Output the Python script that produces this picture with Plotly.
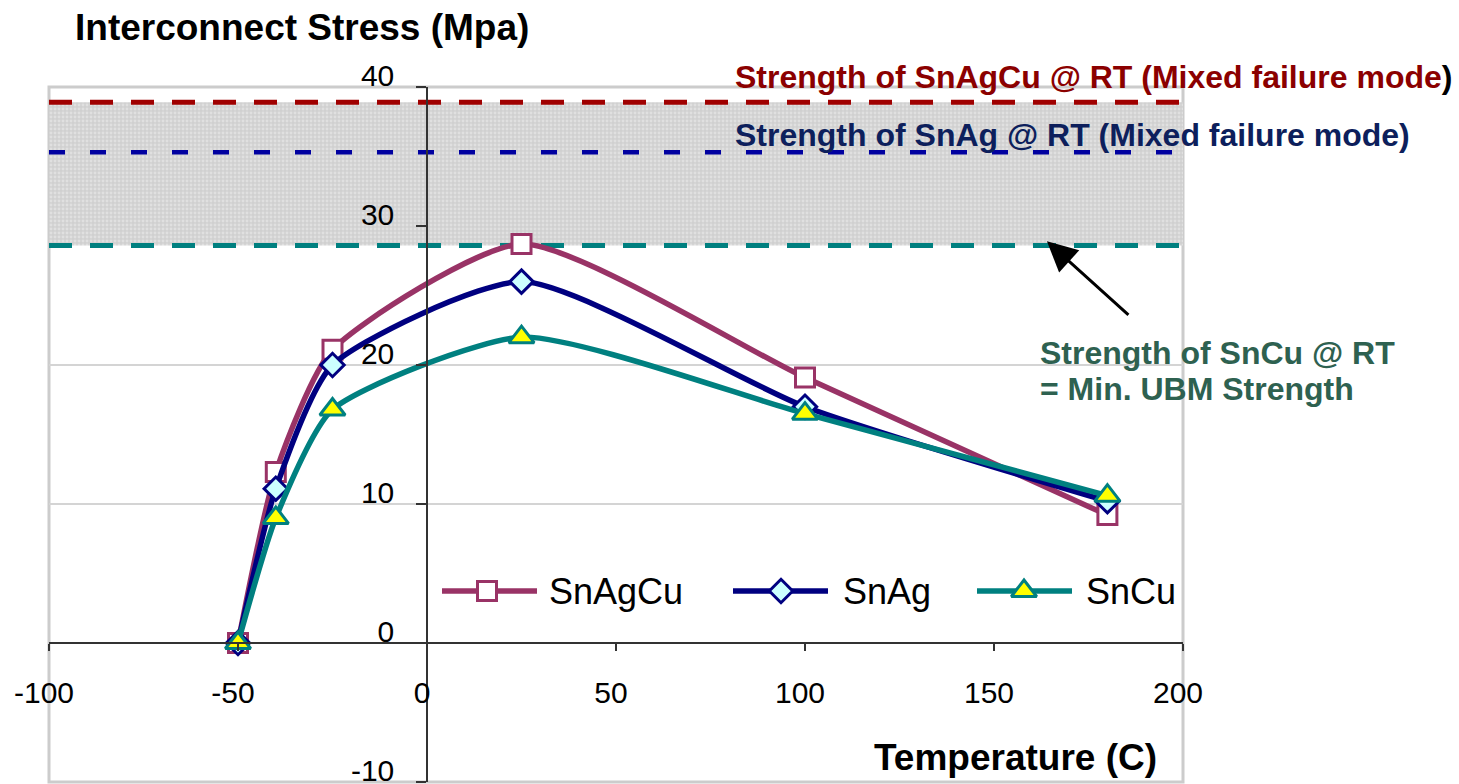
import plotly.graph_objects as go

# Measured interconnect stress vs. temperature for three solder alloys
temperature = [-50, -40, -25, 25, 100, 180]
stress_snagcu = [0.0, 12.3, 21.1, 28.7, 19.1, 9.2]
stress_snag = [0.0, 11.1, 20.0, 26.0, 17.0, 10.2]
stress_sncu = [0.0, 9.0, 16.8, 22.0, 16.5, 10.6]

# Room-temperature strength levels (MPa)
strength_snagcu = 38.9
strength_snag = 35.3
strength_sncu = 28.6

x_range = [-100, 200]
y_range = [-10, 40]
x_ticks = [-100, -50, 0, 50, 100, 150, 200]
y_ticks = [-10, 0, 10, 20, 30, 40]

series_names = ["SnAgCu", "SnAg", "SnCu"]

FONT = "Liberation Sans, Arial, sans-serif"
W, H = 1459, 784
PL, PR, PT, PB = 49, 1183, 87, 782  # plot-area edges in pixels


def px(xp):
    return (xp - PL) / (PR - PL)


def py(yp):
    return (PB - yp) / (PB - PT)


styles = {
    "SnAgCu": dict(line=dict(color="#993366", width=5.5),
                   marker=dict(symbol="square", size=19, color="white",
                               line=dict(color="#993366", width=3))),
    "SnAg": dict(line=dict(color="#000080", width=5.5),
                 marker=dict(symbol="diamond", size=18, color="#CCFFFF",
                             line=dict(color="#000080", width=3))),
    "SnCu": dict(line=dict(color="#008080", width=5.5),
                 marker=dict(symbol="triangle-up", size=22, color="#FFFF00",
                             line=dict(color="#008080", width=3))),
}

fig = go.Figure()

# Shaded band between the minimum (SnCu) and maximum (SnAgCu) strength
fig.add_trace(go.Scatter(
    x=[x_range[0], x_range[1], x_range[1], x_range[0], x_range[0]],
    y=[strength_sncu, strength_sncu, strength_snagcu, strength_snagcu, strength_sncu],
    mode="lines", line=dict(width=0), fill="toself",
    fillcolor="#d6d6d6",
    fillpattern=dict(shape=".", bgcolor="#d0d0d0", fgcolor="#f0f0f0",
                     size=4, solidity=0.4),
    hoverinfo="skip", showlegend=False,
))

# Strength reference lines
for level, color, dash, width in [
    (strength_snagcu, "#A00000", "23px,18px", 5),
    (strength_snag, "#0000A0", "16px,25px", 4.5),
    (strength_sncu, "#008080", "23px,18px", 5),
]:
    fig.add_trace(go.Scatter(
        x=x_range, y=[level, level], mode="lines",
        line=dict(color=color, width=width, dash=dash),
        hoverinfo="skip", showlegend=False,
    ))

# Stress curves
for name, values in zip(series_names, [stress_snagcu, stress_snag, stress_sncu]):
    st = styles[name]
    fig.add_trace(go.Scatter(
        x=temperature, y=values, mode="lines+markers", name=name,
        line=dict(color=st["line"]["color"], width=st["line"]["width"],
                  shape="spline", smoothing=0.6),
        marker=st["marker"], showlegend=False, cliponaxis=False,
    ))

# Legend drawn on an overlay axis in plot-area fractions
legend_y = py(591)
legend_items = [
    ("SnAgCu", 442, 537, 487, 547),
    ("SnAg", 733, 828, 781, 841),
    ("SnCu", 977, 1072, 1024, 1084),
]
annotations = []
for name, x0, x1, xm, xt in legend_items:
    st = styles[name]
    fig.add_trace(go.Scatter(
        x=[px(x0), px(x1)], y=[legend_y, legend_y], mode="lines",
        line=dict(color=st["line"]["color"], width=st["line"]["width"]),
        xaxis="x2", yaxis="y2", hoverinfo="skip", showlegend=False,
    ))
    fig.add_trace(go.Scatter(
        x=[px(xm)], y=[legend_y], mode="markers", marker=st["marker"],
        xaxis="x2", yaxis="y2", hoverinfo="skip", showlegend=False,
    ))
    annotations.append(dict(
        xref="paper", yref="paper", x=px(xt), y=legend_y,
        xanchor="left", yanchor="middle", text=name, showarrow=False,
        font=dict(family=FONT, size=36, color="black"),
    ))

# Titles and labels
annotations += [
    dict(xref="paper", yref="paper", x=px(73), y=py(27), xanchor="left",
         yanchor="middle", showarrow=False,
         text="<b>Interconnect Stress (Mpa)</b>",
         font=dict(family=FONT, size=37, color="black")),
    dict(xref="paper", yref="paper", x=px(872), y=py(757), xanchor="left",
         yanchor="middle", showarrow=False,
         text="<b>Temperature (C)</b>",
         font=dict(family=FONT, size=37, color="black")),
    dict(xref="paper", yref="paper", x=px(733), y=py(77), xanchor="left",
         yanchor="middle", showarrow=False,
         text="<b>Strength of SnAgCu @ RT (Mixed failure mode"
              "<span style='color:black'>)</span></b>",
         font=dict(family=FONT, size=32, color="#8B0000")),
    dict(xref="paper", yref="paper", x=px(733), y=py(135), xanchor="left",
         yanchor="middle", showarrow=False,
         text="<b>Strength of SnAg @ RT (Mixed failure mode)</b>",
         font=dict(family=FONT, size=32, color="#0D1F5C")),
    dict(xref="paper", yref="paper", x=px(1038), y=py(353), xanchor="left",
         yanchor="middle", showarrow=False,
         text="<b>Strength of SnCu @ RT</b>",
         font=dict(family=FONT, size=32, color="#2E6150")),
    dict(xref="paper", yref="paper", x=px(1038), y=py(389), xanchor="left",
         yanchor="middle", showarrow=False,
         text="<b>= Min. UBM Strength</b>",
         font=dict(family=FONT, size=32, color="#2E6150")),
    # Arrow pointing at the SnCu strength line
    dict(xref="x", yref="y", x=164, y=strength_sncu + 0.3, text="",
         showarrow=True, arrowhead=2, arrowsize=2, arrowwidth=3,
         arrowcolor="black", ax=83, ay=75, standoff=0),
]

# Plot-area frame
shapes = [dict(type="rect", xref="paper", yref="paper", x0=0, x1=1, y0=0, y1=1,
               line=dict(color="#cccccc", width=3), layer="below")]

fig.update_layout(
    width=W, height=H,
    margin=dict(l=PL, r=W - PR, t=PT, b=H - PB, pad=0, autoexpand=False),
    paper_bgcolor="white", plot_bgcolor="white",
    font=dict(family=FONT, color="black"),
    showlegend=False,
    xaxis=dict(
        range=x_range, tickmode="array", tickvals=x_ticks,
        ticktext=[str(v) for v in x_ticks],
        anchor="free", position=(0 - y_range[0]) / (y_range[1] - y_range[0]),
        showline=True, linecolor="#333333", linewidth=1.5,
        ticks="outside", ticklen=7, tickwidth=1.5, tickcolor="#333333",
        showgrid=False, zeroline=False, automargin=False,
        tickfont=dict(family=FONT, size=30, color="black"),
        ticklabelstandoff=16, ticklabelshift=-5, ticklabeloverflow="allow",
    ),
    yaxis=dict(
        range=y_range, tickmode="array", tickvals=y_ticks,
        ticktext=[str(v) for v in y_ticks],
        anchor="free", position=(0 - x_range[0]) / (x_range[1] - x_range[0]),
        showline=True, linecolor="#333333", linewidth=1.5,
        ticks="outside", ticklen=10, tickwidth=1.5, tickcolor="#333333",
        showgrid=True, gridcolor="#d4d4d4", gridwidth=1.5, zeroline=False,
        automargin=False,
        tickfont=dict(family=FONT, size=30, color="black"),
        ticklabelstandoff=16, ticklabelshift=-12, ticklabeloverflow="allow",
    ),
    xaxis2=dict(overlaying="x", range=[0, 1], visible=False, anchor="y2"),
    yaxis2=dict(overlaying="y", range=[0, 1], visible=False, anchor="x2"),
    annotations=annotations,
    shapes=shapes,
)

fig.write_html("out.html")
